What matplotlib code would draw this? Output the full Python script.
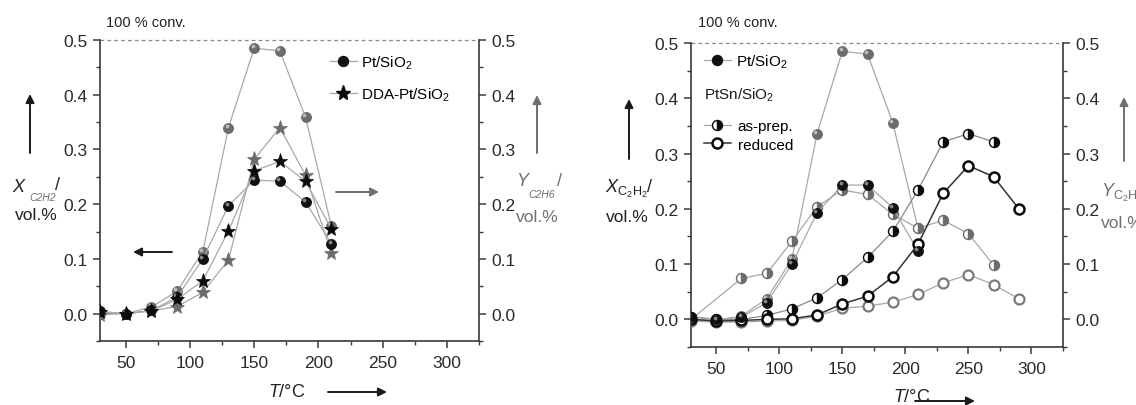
import matplotlib
matplotlib.use("Agg")
import matplotlib.pyplot as plt
from matplotlib.transforms import offset_copy
from matplotlib.lines import Line2D
from matplotlib.ticker import MultipleLocator

plt.rcParams['font.family'] = ['Liberation Sans', 'DejaVu Sans']
plt.rcParams['mathtext.fontset'] = 'custom'
plt.rcParams['mathtext.rm'] = 'Liberation Sans'
plt.rcParams['mathtext.it'] = 'Liberation Sans:italic'

# ---------------- data: Pt/SiO2 vs DDA-Pt/SiO2 ----------------
T_left = [30, 50, 70, 90, 110, 130, 150, 170, 190, 210]
pt_X_left = [0.004, 0.0, 0.006, 0.030, 0.100, 0.197, 0.244, 0.242, 0.204, 0.128]
pt_Y_left = [0.0, 0.0, 0.012, 0.041, 0.113, 0.340, 0.485, 0.480, 0.359, 0.161]
dda_X = [0.003, 0.0, 0.005, 0.026, 0.060, 0.151, 0.261, 0.278, 0.242, 0.155]
dda_Y = [-0.002, 0.0, 0.005, 0.013, 0.039, 0.098, 0.282, 0.340, 0.253, 0.111]

# ---------------- data: Pt/SiO2 vs PtSn/SiO2 ----------------
T_pt_right = [30, 50, 70, 90, 110, 130, 150, 170, 190, 210]
pt_X_right = [0.004, 0.0, 0.004, 0.030, 0.100, 0.193, 0.243, 0.243, 0.202, 0.124]
pt_Y_right = [0.0, -0.002, 0.006, 0.037, 0.109, 0.336, 0.485, 0.480, 0.356, 0.165]

T_asprep_X = [30, 50, 70, 90, 110, 130, 150, 170, 190, 210, 230, 250, 270]
asprep_X = [0.005, 0.0, 0.0, 0.007, 0.019, 0.039, 0.072, 0.112, 0.159, 0.234, 0.321, 0.336, 0.321]
T_asprep_Y = [30, 70, 90, 110, 130, 150, 170, 190, 210, 230, 250, 270]
asprep_Y = [0.0, 0.074, 0.083, 0.141, 0.204, 0.234, 0.226, 0.190, 0.165, 0.179, 0.155, 0.098]

T_reduced = [30, 50, 70, 90, 110, 130, 150, 170, 190, 210, 230, 250, 270, 290]
reduced_X = [0.0, -0.003, -0.002, 0.0, 0.001, 0.008, 0.028, 0.042, 0.077, 0.136, 0.228, 0.278, 0.258, 0.200]
reduced_Y = [-0.003, -0.005, -0.005, -0.003, -0.002, 0.006, 0.020, 0.024, 0.031, 0.045, 0.066, 0.081, 0.063, 0.037]

x_ticks = [50, 100, 150, 200, 250, 300]
y_ticks = [0.0, 0.1, 0.2, 0.3, 0.4, 0.5]

W, H = 1136, 406
fig = plt.figure(figsize=(W / 100, H / 100), dpi=100)


def P(x, y):
    """image-pixel position -> figure fraction"""
    return x / W, 1 - y / H


AX_COL = '#3a3a3a'
LINE_COL = '#a8a8a8'
GRAY = '#6c6c6c'
TXT_GRAY = '#707070'
FS_TICK = 12.5
FS_LEG = 11


def style_axes(ax, ax2):
    for a in (ax, ax2):
        a.set_xlim(30, 325)
        a.set_ylim(-0.05, 0.5)
        a.spines['top'].set_visible(False)
        for s in a.spines.values():
            s.set_color(AX_COL)
            s.set_linewidth(1.2)
    ax.spines['right'].set_visible(False)
    ax2.spines['left'].set_visible(False)
    ax2.spines['bottom'].set_visible(False)
    ax.set_xticks(x_ticks)
    ax.xaxis.set_minor_locator(MultipleLocator(25))
    ax.set_yticks(y_ticks)
    ax.yaxis.set_minor_locator(MultipleLocator(0.05))
    ax.set_yticklabels([f'{v:.1f}' for v in y_ticks])
    ax2.set_yticks(y_ticks)
    ax2.yaxis.set_minor_locator(MultipleLocator(0.05))
    ax2.set_yticklabels([f'{v:.1f}' for v in y_ticks])
    for a in (ax, ax2):
        a.tick_params(which='major', direction='out', length=5, width=1.1,
                      color=AX_COL, labelsize=FS_TICK, labelcolor='#2a2a2a', pad=4)
        a.tick_params(which='minor', direction='out', length=3, width=1.0, color=AX_COL)
    ax.tick_params(axis='x', which='major', pad=5)
    ax2.tick_params(axis='x', which='both', bottom=False, labelbottom=False)
    # 100 % conversion reference line
    ax.axhline(0.5, color='#8a8a8a', lw=0.9, ls=(0, (3, 2.5)), clip_on=False, zorder=1)


def ball(ax, x, y, body, shine, ms=7.2, lc=LINE_COL, lw=0.9, z=3):
    ax.plot(x, y, '-', color=lc, lw=lw, zorder=z - 1)
    ax.plot(x, y, 'o', ms=ms, mfc=body, mec=body, mew=0.6, zorder=z)
    tr = offset_copy(ax.transData, fig=ax.figure, x=-1.2, y=1.3, units='points')
    ax.plot(x, y, 'o', ms=ms * 0.38, mfc=shine, mec='none', alpha=0.85,
            transform=tr, zorder=z + 0.1)


def star(ax, x, y, col, ms=11, z=3):
    ax.plot(x, y, '-', color=LINE_COL, lw=0.9, zorder=z - 1)
    ax.plot(x, y, '*', ms=ms, mfc=col, mec=col, mew=0.5, zorder=z)


def arrow(x0, y0, x1, y1, col='#1a1a1a', lw=1.4):
    fig.add_artist(matplotlib.patches.FancyArrowPatch(
        P(x0, y0), P(x1, y1), transform=fig.transFigure,
        arrowstyle='-|>,head_length=5,head_width=2.5', color=col, lw=lw,
        mutation_scale=1, shrinkA=0, shrinkB=0))


# ================= left panel =================
axL = fig.add_axes([100 / W, 1 - 342 / H, 379 / W, 301 / H])
axL2 = axL.twinx()
style_axes(axL, axL2)
axL2.set_zorder(axL.get_zorder() + 1)

ball(axL2, T_left, pt_Y_left, GRAY, '#c8c8c8', z=3)
star(axL2, T_left, dda_Y, GRAY, z=4)
ball(axL2, T_left, pt_X_left, '#111111', '#9a9a9a', z=6)
star(axL2, T_left, dda_X, '#0a0a0a', z=7)

legL = axL2.legend(
    handles=[Line2D([], [], color=LINE_COL, lw=0.9, marker='o', ms=7.2, mfc='#111111', mec='#111111'),
             Line2D([], [], color=LINE_COL, lw=0.9, marker='*', ms=11, mfc='#0a0a0a', mec='#0a0a0a')],
    labels=['Pt/SiO$_2$', 'DDA-Pt/SiO$_2$'],
    loc='upper left', bbox_to_anchor=(0.607, 0.955), frameon=False,
    fontsize=FS_LEG, handlelength=1.75, handletextpad=0.25, labelspacing=0.95,
    borderpad=0, borderaxespad=0)

# ================= right panel =================
axR = fig.add_axes([691 / W, 1 - 348 / H, 372 / W, 304 / H])
axR2 = axR.twinx()
style_axes(axR, axR2)
axR2.set_zorder(axR.get_zorder() + 1)

ball(axR2, T_pt_right, pt_Y_right, GRAY, '#c8c8c8', z=3)
axR2.plot(T_asprep_Y, asprep_Y, '-', color=LINE_COL, lw=0.9, zorder=3)
axR2.plot(T_asprep_Y, asprep_Y, 'o', ms=7.2, fillstyle='right', mfc=GRAY,
          mfcalt='white', mec=GRAY, mew=1.0, zorder=4)
axR2.plot(T_reduced, reduced_Y, '-', color=LINE_COL, lw=0.9, zorder=3)
axR2.plot(T_reduced, reduced_Y, 'o', ms=7.2, mfc='white', mec='#7a7a7a', mew=1.6, zorder=4)

ball(axR2, T_pt_right, pt_X_right, '#111111', '#9a9a9a', z=7)
axR2.plot(T_asprep_X, asprep_X, '-', color='#8a8a8a', lw=0.9, zorder=5)
axR2.plot(T_asprep_X, asprep_X, 'o', ms=7.2, fillstyle='right', mfc='#0a0a0a',
          mfcalt='white', mec='#0a0a0a', mew=1.0, zorder=6)
axR2.plot(T_reduced, reduced_X, '-', color='#333333', lw=1.1, zorder=5)
axR2.plot(T_reduced, reduced_X, 'o', ms=7.2, mfc='white', mec='#0a0a0a', mew=1.8, zorder=6)

legR1 = axR2.legend(
    handles=[Line2D([], [], color=LINE_COL, lw=0.9, marker='o', ms=7.2, mfc='#111111', mec='#111111')],
    labels=['Pt/SiO$_2$'], loc='upper left', bbox_to_anchor=(0.035, 0.97),
    frameon=False, fontsize=FS_LEG, handlelength=1.75, handletextpad=0.35,
    borderpad=0, borderaxespad=0)
axR2.add_artist(legR1)
axR2.text(0.035, (348 - 95) / 304, 'PtSn/SiO$_2$', transform=axR2.transAxes,
          fontsize=FS_LEG, va='center', ha='left', color='#1a1a1a')
axR2.legend(
    handles=[Line2D([], [], color=LINE_COL, lw=0.9, marker='o', ms=7.2, fillstyle='right',
                    mfc='#0a0a0a', mfcalt='white', mec='#0a0a0a'),
             Line2D([], [], color='#333333', lw=1.1, marker='o', ms=7.2, mfc='white',
                    mec='#0a0a0a', mew=1.8)],
    labels=['as-prep.', 'reduced'], loc='upper left', bbox_to_anchor=(0.035, (348 - 120) / 304),
    frameon=False, fontsize=FS_LEG, handlelength=1.75, handletextpad=0.45,
    labelspacing=0.3, borderpad=0, borderaxespad=0)

# ================= annotations =================
fig.text(*P(106, 23), '100 % conv.', fontsize=10.5, va='center', ha='left', color='#222222')
fig.text(*P(698, 23), '100 % conv.', fontsize=10.5, va='center', ha='left', color='#222222')

# left panel axis labels
fig.text(*P(12, 187), 'X', fontsize=13, style='italic', va='center', ha='left', color='#222222')
fig.text(*P(29, 198), 'C2H2', fontsize=7.5, style='italic', va='center', ha='left', color=TXT_GRAY)
fig.text(*P(55, 186), '/', fontsize=13, va='center', ha='left', color='#222222')
fig.text(*P(15, 216), 'vol.%', fontsize=12.5, va='center', ha='left', color='#222222')
arrow(30, 154, 30, 95)
arrow(172, 253, 133, 253)

fig.text(*P(516, 182), 'Y', fontsize=13, style='italic', va='center', ha='left', color=TXT_GRAY)
fig.text(*P(528, 195), 'C2H6', fontsize=7.5, style='italic', va='center', ha='left', color=TXT_GRAY)
fig.text(*P(557, 182), '/', fontsize=13, va='center', ha='left', color=TXT_GRAY)
fig.text(*P(516, 218), 'vol.%', fontsize=12.5, va='center', ha='left', color=TXT_GRAY)
arrow(537, 154, 537, 96, col=TXT_GRAY)
arrow(336, 193, 379, 193, col=TXT_GRAY)

fig.text(*P(268, 393), '$T$/°C', fontsize=13, va='center', ha='left', color='#222222')
arrow(328, 393, 387, 393)

# right panel axis labels
fig.text(*P(605, 189), '$X$$_{\\mathrm{C_2H_2}}$/', fontsize=13, va='center', ha='left', color='#222222')
fig.text(*P(606, 218), 'vol.%', fontsize=12.5, va='center', ha='left', color='#222222')
arrow(629, 160, 629, 100)

fig.text(*P(1101, 193), '$Y$$_{\\mathrm{C_2H_6}}$/', fontsize=13, va='center', ha='left', color=TXT_GRAY)
fig.text(*P(1101, 223), 'vol.%', fontsize=12.5, va='center', ha='left', color=TXT_GRAY)
arrow(1124, 162, 1124, 98, col=TXT_GRAY)

fig.text(*P(893, 398), '$T$/°C', fontsize=13, va='center', ha='left', color='#222222')
arrow(915, 402, 975, 402)

fig.savefig('out.png', dpi=100)
